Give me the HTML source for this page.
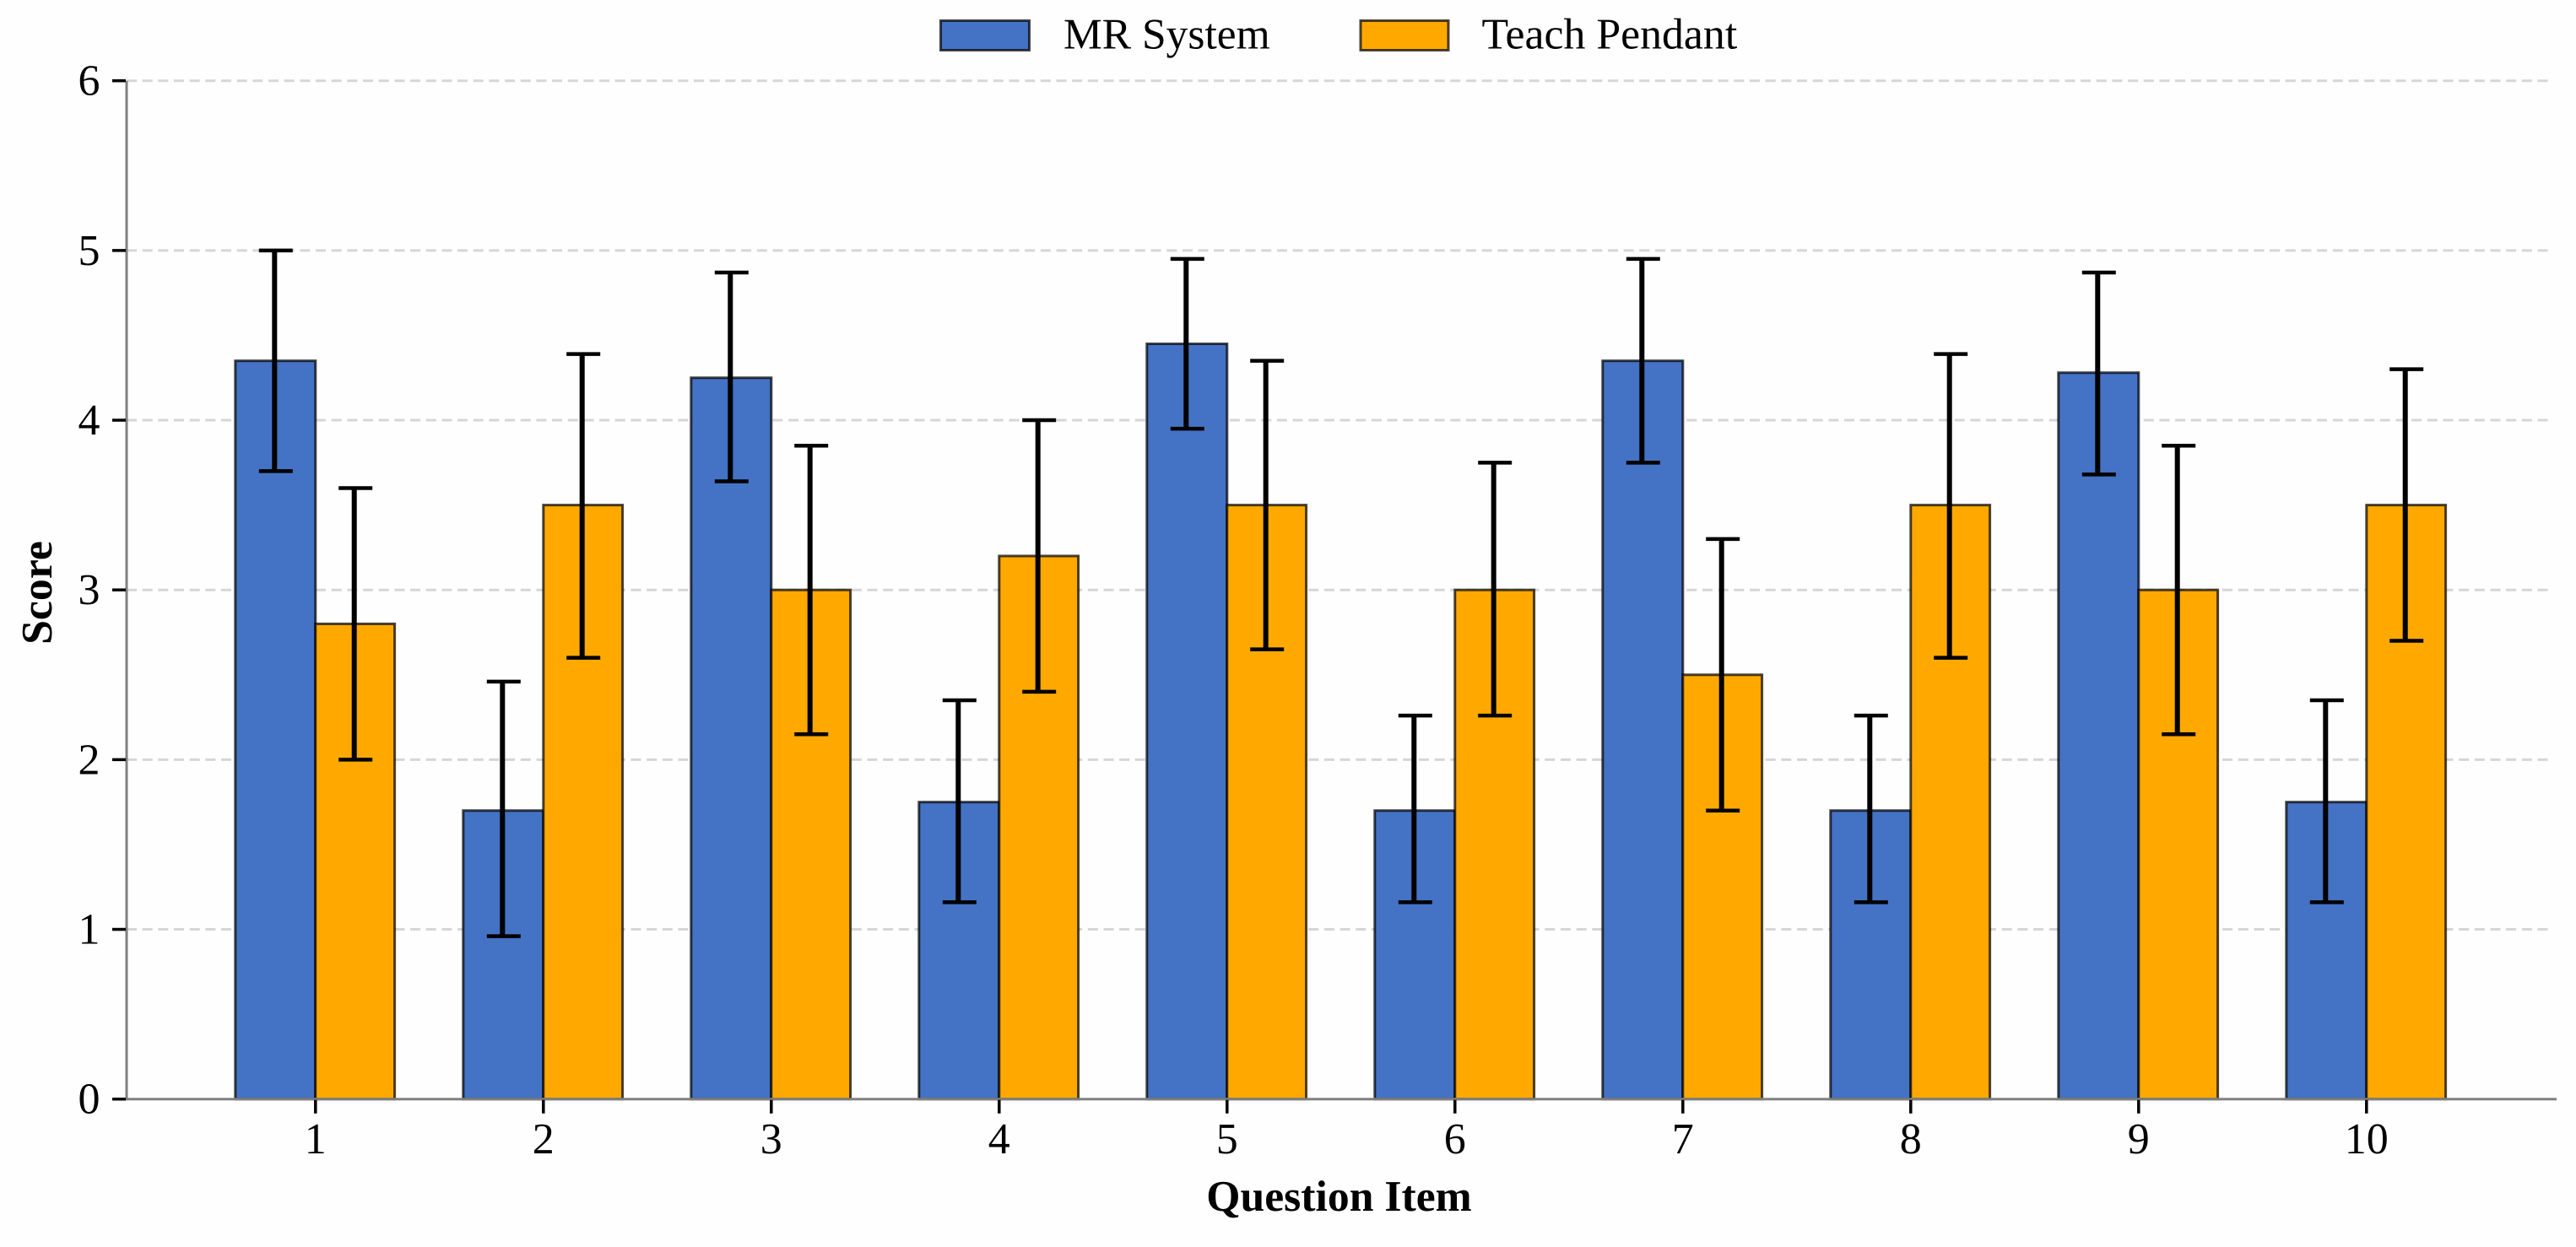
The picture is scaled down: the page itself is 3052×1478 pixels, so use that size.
<!DOCTYPE html>
<html lang="en">
<head>
<meta charset="utf-8">
<title>Question Item Scores</title>
<style>
html,body{margin:0;padding:0;background:#fff;width:3052px;height:1478px;overflow:hidden}
svg{display:block}
text{font-family:"Liberation Serif","Times New Roman",serif;fill:#000;text-rendering:geometricPrecision}
</style>
</head>
<body>
<svg id="chart" xmlns="http://www.w3.org/2000/svg" width="3052" height="1478" viewBox="0 0 3052 1478">
  <rect x="0" y="0" width="3052" height="1478" fill="#fffefe"/>
  <g id="grid"></g>
  <g id="bars"></g>
  <g id="errors"></g>
  <g id="axes"></g>
  <g>
    <g>
      <rect x="1114.5" y="24.5" width="105" height="35" fill="#4472C4" stroke="#000" stroke-opacity="0.72" stroke-width="3"/>
      <text x="1260" y="57.3" font-size="51.5">MR System</text>
    </g>
    <g>
      <rect x="1612" y="24.5" width="104" height="35" fill="#FFA900" stroke="#000" stroke-opacity="0.72" stroke-width="3"/>
      <text x="1755.5" y="57.3" font-size="51.8">Teach Pendant</text>
    </g>
  </g>
  <text x="1586.5" y="1435" font-size="51.7" font-weight="700" text-anchor="middle">Question Item</text>
  <text x="0" y="0" font-size="51.8" font-weight="700" text-anchor="middle" transform="translate(61 702.5) rotate(-90)">Score</text>
</svg>
<script>
var categories = ["1", "2", "3", "4", "5", "6", "7", "8", "9", "10"];
var yTickLabels = [0, 1, 2, 3, 4, 5, 6];
var mrValues = [4.35, 1.7, 4.25, 1.75, 4.45, 1.7, 4.35, 1.7, 4.28, 1.75];
var mrErrorHigh = [5.0, 2.46, 4.87, 2.35, 4.95, 2.26, 4.95, 2.26, 4.87, 2.35];
var mrErrorLow = [3.7, 0.96, 3.64, 1.16, 3.95, 1.16, 3.75, 1.16, 3.68, 1.16];
var tpValues = [2.8, 3.5, 3.0, 3.2, 3.5, 3.0, 2.5, 3.5, 3.0, 3.5];
var tpErrorHigh = [3.6, 4.39, 3.85, 4.0, 4.35, 3.75, 3.3, 4.39, 3.85, 4.3];
var tpErrorLow = [2.0, 2.6, 2.15, 2.4, 2.65, 2.26, 1.7, 2.6, 2.15, 2.7];

var NS = 'http://www.w3.org/2000/svg';
var plotLeft = 150, plotRight = 3029, plotTop = 95.7, plotBottom = 1302.7;
var yMax = 6, firstTickX = 373.8, categoryStep = 270;
var mrBarWidth = 95, tpBarWidth = 93.8;

function xScale(i) { return firstTickX + i * categoryStep; }
function yScale(v) { return plotBottom - (v / yMax) * (plotBottom - plotTop); }
function make(tag, attrs, parent) {
  var el = document.createElementNS(NS, tag);
  for (var k in attrs) el.setAttribute(k, attrs[k]);
  parent.appendChild(el);
  return el;
}

var gridLayer = document.getElementById('grid');
var barLayer = document.getElementById('bars');
var errorLayer = document.getElementById('errors');
var axisLayer = document.getElementById('axes');

yTickLabels.forEach(function (v) {
  var y = yScale(v);
  if (v > 0) {
    var g = make('line', {x1: plotLeft, x2: plotRight - 6, y1: y, y2: y, stroke: '#d6d6d6', 'stroke-width': 3, 'stroke-dasharray': '12 6.67'}, gridLayer);
    
    
  }
});

function drawSeries(values, high, low, offset, width, fill, name) {
  values.forEach(function (v, i) {
    var left = xScale(i) + offset;
    var r = make('rect', {x: left, y: yScale(v), width: width, height: plotBottom - yScale(v), fill: fill, stroke: '#000', 'stroke-opacity': 0.72, 'stroke-width': 3}, barLayer);
    
    

    var cx = left + width / 2;
    var eg = make('g', {stroke: '#000', fill: 'none'}, errorLayer);
    
    
    make('line', {x1: cx - 1, x2: cx - 1, y1: yScale(high[i]), y2: yScale(low[i]), 'stroke-width': 6}, eg);
    make('line', {x1: cx - 19.5, x2: cx + 20.5, y1: yScale(high[i]), y2: yScale(high[i]), 'stroke-width': 4.5}, eg);
    make('line', {x1: cx - 19.5, x2: cx + 20.5, y1: yScale(low[i]), y2: yScale(low[i]), 'stroke-width': 4.5}, eg);
  });
}
drawSeries(mrValues, mrErrorHigh, mrErrorLow, -mrBarWidth, mrBarWidth, '#4472C4', 'mr-system');
drawSeries(tpValues, tpErrorHigh, tpErrorLow, 0, tpBarWidth, '#FFA900', 'teach-pendant');

var ySpine = make('line', {x1: plotLeft, x2: plotLeft, y1: plotTop, y2: plotBottom + 1.5, stroke: '#808080', 'stroke-width': 3}, axisLayer);


var xSpine = make('line', {x1: plotLeft, x2: plotRight, y1: plotBottom, y2: plotBottom, stroke: '#808080', 'stroke-width': 3}, axisLayer);



yTickLabels.forEach(function (v) {
  var y = yScale(v);
  var t = make('line', {x1: plotLeft - 17, x2: plotLeft - 1, y1: y, y2: y, stroke: '#000', 'stroke-width': 3.5}, axisLayer);
  
  
  var l = make('text', {x: 118.5, y: y + 17, 'font-size': 52, 'text-anchor': 'end'}, axisLayer);
  l.textContent = String(v);
  
  
});

categories.forEach(function (c, i) {
  var x = xScale(i);
  var t = make('line', {x1: x, x2: x, y1: plotBottom + 1, y2: plotBottom + 17, stroke: '#000', 'stroke-width': 3.5}, axisLayer);
  
  
  var l = make('text', {x: x, y: 1367, 'font-size': 52, 'text-anchor': 'middle'}, axisLayer);
  l.textContent = c;
  
  
});
</script>
</body>
</html>
